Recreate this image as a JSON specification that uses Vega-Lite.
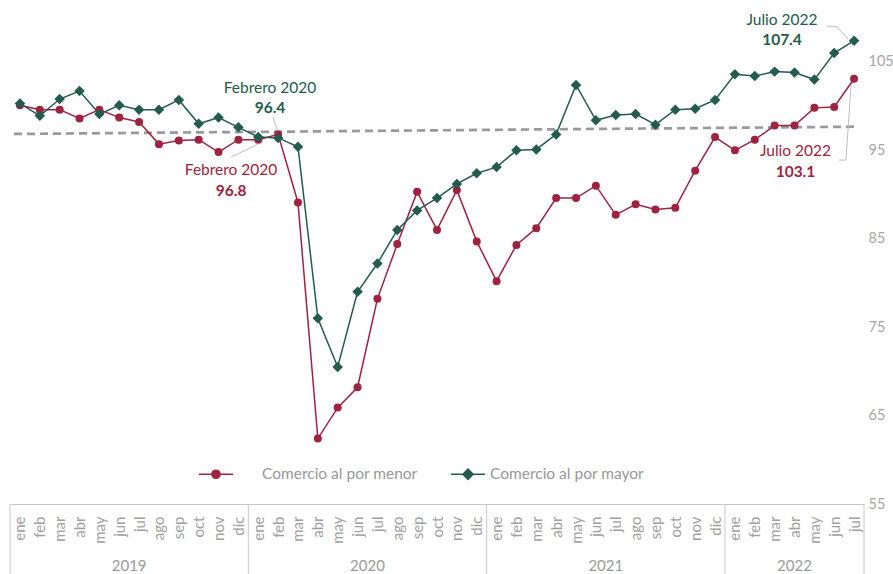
{
  "$schema": "https://vega.github.io/schema/vega-lite/v6.json",
  "width": 854,
  "height": 504,
  "autosize": {"type": "none"},
  "padding": {"left": 10, "top": 0, "right": 29, "bottom": 70},
  "background": "white",
  "config": {
    "font": "Lato",
    "view": {"stroke": null},
    "axis": {"grid": false, "ticks": false, "title": null}
  },
  "datasets": {
    "serie": [
      {"t": 0, "Comercio al por menor": 100.1, "Comercio al por mayor": 100.3},
      {"t": 1, "Comercio al por menor": 99.6, "Comercio al por mayor": 98.9},
      {"t": 2, "Comercio al por menor": 99.6, "Comercio al por mayor": 100.8},
      {"t": 3, "Comercio al por menor": 98.6, "Comercio al por mayor": 101.7},
      {"t": 4, "Comercio al por menor": 99.6, "Comercio al por mayor": 99.1},
      {"t": 5, "Comercio al por menor": 98.7, "Comercio al por mayor": 100.1},
      {"t": 6, "Comercio al por menor": 98.2, "Comercio al por mayor": 99.6},
      {"t": 7, "Comercio al por menor": 95.7, "Comercio al por mayor": 99.6},
      {"t": 8, "Comercio al por menor": 96.1, "Comercio al por mayor": 100.7},
      {"t": 9, "Comercio al por menor": 96.2, "Comercio al por mayor": 98.0},
      {"t": 10, "Comercio al por menor": 94.8, "Comercio al por mayor": 98.7},
      {"t": 11, "Comercio al por menor": 96.2, "Comercio al por mayor": 97.6},
      {"t": 12, "Comercio al por menor": 96.2, "Comercio al por mayor": 96.5},
      {"t": 13, "Comercio al por menor": 96.8, "Comercio al por mayor": 96.4},
      {"t": 14, "Comercio al por menor": 89.1, "Comercio al por mayor": 95.4},
      {"t": 15, "Comercio al por menor": 62.4, "Comercio al por mayor": 76.0},
      {"t": 16, "Comercio al por menor": 65.9, "Comercio al por mayor": 70.5},
      {"t": 17, "Comercio al por menor": 68.2, "Comercio al por mayor": 79.0},
      {"t": 18, "Comercio al por menor": 78.2, "Comercio al por mayor": 82.2},
      {"t": 19, "Comercio al por menor": 84.4, "Comercio al por mayor": 86.0},
      {"t": 20, "Comercio al por menor": 90.3, "Comercio al por mayor": 88.2},
      {"t": 21, "Comercio al por menor": 86.0, "Comercio al por mayor": 89.6},
      {"t": 22, "Comercio al por menor": 90.5, "Comercio al por mayor": 91.2},
      {"t": 23, "Comercio al por menor": 84.7, "Comercio al por mayor": 92.4},
      {"t": 24, "Comercio al por menor": 80.2, "Comercio al por mayor": 93.1},
      {"t": 25, "Comercio al por menor": 84.3, "Comercio al por mayor": 95.0},
      {"t": 26, "Comercio al por menor": 86.2, "Comercio al por mayor": 95.1},
      {"t": 27, "Comercio al por menor": 89.6, "Comercio al por mayor": 96.8},
      {"t": 28, "Comercio al por menor": 89.6, "Comercio al por mayor": 102.4},
      {"t": 29, "Comercio al por menor": 91.0, "Comercio al por mayor": 98.4},
      {"t": 30, "Comercio al por menor": 87.7, "Comercio al por mayor": 99.0},
      {"t": 31, "Comercio al por menor": 88.9, "Comercio al por mayor": 99.1},
      {"t": 32, "Comercio al por menor": 88.3, "Comercio al por mayor": 97.9},
      {"t": 33, "Comercio al por menor": 88.5, "Comercio al por mayor": 99.6},
      {"t": 34, "Comercio al por menor": 92.7, "Comercio al por mayor": 99.7},
      {"t": 35, "Comercio al por menor": 96.5, "Comercio al por mayor": 100.7},
      {"t": 36, "Comercio al por menor": 95.0, "Comercio al por mayor": 103.6},
      {"t": 37, "Comercio al por menor": 96.2, "Comercio al por mayor": 103.4},
      {"t": 38, "Comercio al por menor": 97.8, "Comercio al por mayor": 103.9},
      {"t": 39, "Comercio al por menor": 97.8, "Comercio al por mayor": 103.8},
      {"t": 40, "Comercio al por menor": 99.8, "Comercio al por mayor": 103.0},
      {"t": 41, "Comercio al por menor": 99.9, "Comercio al por mayor": 106.0},
      {"t": 42, "Comercio al por menor": 103.1, "Comercio al por mayor": 107.4}
    ],
    "tendencia": [
      {"t": -0.3, "v": 96.85},
      {"t": 42, "v": 97.67}
    ],
    "anotaciones": [
      {"serie": "Comercio al por mayor", "t": 12.59, "v": 102.05, "nombre": "Febrero 2020", "valor": "96.4"},
      {"serie": "Comercio al por menor", "t": 10.63, "v": 92.77, "nombre": "Febrero 2020", "valor": "96.8"},
      {"serie": "Comercio al por mayor", "t": 38.37, "v": 109.74, "nombre": "Julio 2022", "valor": "107.4"},
      {"serie": "Comercio al por menor", "t": 39.05, "v": 94.92, "nombre": "Julio 2022", "valor": "103.1"}
    ],
    "guias": [
      {"id": "gf", "k": 0, "t": 12.74, "v": 98.77},
      {"id": "gf", "k": 1, "t": 12.99, "v": 97.07},
      {"id": "rf", "k": 0, "t": 10.63, "v": 94.24},
      {"id": "rf", "k": 1, "t": 11.99, "v": 95.71},
      {"id": "gj", "k": 0, "t": 40.64, "v": 109.06},
      {"id": "gj", "k": 1, "t": 41.14, "v": 108.95},
      {"id": "gj", "k": 2, "t": 41.7, "v": 107.59},
      {"id": "rj", "k": 0, "t": 41.24, "v": 93.9},
      {"id": "rj", "k": 1, "t": 41.59, "v": 93.9},
      {"id": "rj", "k": 2, "t": 41.85, "v": 102.39}
    ],
    "separadores": [
      {"t": -0.5}, {"t": 11.5}, {"t": 23.5}, {"t": 35.5}, {"t": 42.5}
    ],
    "anios": [
      {"t": 5.5, "anio": "2019"},
      {"t": 17.5, "anio": "2020"},
      {"t": 29.5, "anio": "2021"},
      {"t": 39, "anio": "2022"}
    ]
  },
  "encoding": {
    "x": {
      "field": "t",
      "type": "quantitative",
      "title": null,
      "scale": {"domain": [-0.5, 42.5], "nice": false, "zero": false},
      "axis": {
        "values": [0,1,2,3,4,5,6,7,8,9,10,11,12,13,14,15,16,17,18,19,20,21,22,23,24,25,26,27,28,29,30,31,32,33,34,35,36,37,38,39,40,41,42],
        "labelExpr": "['ene','feb','mar','abr','may','jun','jul','ago','sep','oct','nov','dic'][datum.value % 12]",
        "labelAngle": 270,
        "labelPadding": 12,
        "labelFontSize": 15,
        "labelColor": "#a0a0a0",
        "labelOverlap": false,
        "labelBound": false,
        "labelFlush": false,
        "domainColor": "#c8c8c8",
        "ticks": false,
        "grid": false
      }
    }
  },
  "layer": [
    {
      "data": {"name": "separadores"},
      "mark": {"type": "rule", "color": "#c8c8c8", "strokeWidth": 1, "clip": false},
      "encoding": {
        "y": {"datum": 55, "type": "quantitative", "scale": {"domain": [55, 112], "nice": false, "zero": false}, "title": null},
        "y2": {"datum": 47}
      }
    },
    {
      "data": {"name": "anios"},
      "mark": {"type": "text", "fontSize": 15, "color": "#9a9a9a", "align": "center", "baseline": "middle", "clip": false},
      "encoding": {
        "y": {"datum": 48, "type": "quantitative", "scale": {"domain": [55, 112], "nice": false, "zero": false}, "title": null},
        "text": {"field": "anio"}
      }
    },
    {
      "data": {"name": "tendencia"},
      "mark": {"type": "line", "color": "#999999", "strokeWidth": 2.7, "strokeDash": [8, 5]},
      "encoding": {
        "y": {"field": "v", "type": "quantitative", "scale": {"domain": [55, 112], "nice": false, "zero": false}, "title": null}
      }
    },
    {
      "data": {"name": "guias"},
      "mark": {"type": "line", "color": "#c0c0c0", "strokeWidth": 1},
      "encoding": {
        "y": {"field": "v", "type": "quantitative", "scale": {"domain": [55, 112], "nice": false, "zero": false}, "title": null},
        "detail": {"field": "id"},
        "order": {"field": "k"}
      }
    },
    {
      "data": {"name": "serie"},
      "transform": [{"fold": ["Comercio al por menor", "Comercio al por mayor"], "as": ["serie", "v"]}],
      "mark": {"type": "line", "strokeWidth": 1.5},
      "encoding": {
        "y": {
          "field": "v",
          "type": "quantitative",
          "title": null,
          "scale": {"domain": [55, 112], "nice": false, "zero": false},
          "axis": {
            "orient": "right",
            "values": [55, 65, 75, 85, 95, 105],
            "labelPadding": 4,
            "labelFontSize": 14.5,
            "labelColor": "#a6a6a6",
            "domain": false,
            "ticks": false,
            "grid": false
          }
        },
        "color": {
          "field": "serie",
          "type": "nominal",
          "scale": {"domain": ["Comercio al por menor", "Comercio al por mayor"], "range": ["#9F2241", "#235B4E"]},
          "legend": {
            "orient": "none", "legendX": 188, "legendY": 456, "direction": "horizontal", "title": null,
            "symbolSize": 1156, "labelFontSize": 15.5, "labelColor": "#98989A", "labelFont": "Lato",
            "labelOffset": 16, "columnPadding": 30,
            "encoding": {
              "symbols": {
                "shape": {"value": {"expr": "datum.value == 'Comercio al por menor' ? 'M-1,0H1M0.24,0A0.24,0.24,0,1,1,-0.24,0A0.24,0.24,0,1,1,0.24,0Z' : 'M-1,0H1M-0.3,0L0,-0.3L0.3,0L0,0.3Z'"}},
                "stroke": {"value": {"expr": "scale('color', datum.value)"}},
                "fill": {"value": {"expr": "scale('color', datum.value)"}},
                "strokeWidth": {"value": 1.5},
                "size": {"value": 1156},
                "opacity": {"value": 1}
              },
              "labels": {
                "dx": {"value": {"expr": "datum.value == 'Comercio al por menor' ? 12 : -12"}}
              }
            }
          }
        }
      }
    },
    {
      "data": {"name": "serie"},
      "transform": [
        {"fold": ["Comercio al por menor", "Comercio al por mayor"], "as": ["serie", "v"]},
        {"filter": "datum.serie == 'Comercio al por menor'"}
      ],
      "mark": {"type": "point", "shape": "circle", "filled": true, "opacity": 1, "size": 64},
      "encoding": {
        "y": {"field": "v", "type": "quantitative", "scale": {"domain": [55, 112], "nice": false, "zero": false}, "title": null},
        "color": {
          "field": "serie",
          "type": "nominal",
          "legend": {
            "orient": "none", "legendX": 188, "legendY": 456, "direction": "horizontal", "title": null,
            "symbolSize": 1156, "labelFontSize": 15.5, "labelColor": "#98989A", "labelFont": "Lato",
            "labelOffset": 16, "columnPadding": 30,
            "encoding": {
              "symbols": {
                "shape": {"value": {"expr": "datum.value == 'Comercio al por menor' ? 'M-1,0H1M0.24,0A0.24,0.24,0,1,1,-0.24,0A0.24,0.24,0,1,1,0.24,0Z' : 'M-1,0H1M-0.3,0L0,-0.3L0.3,0L0,0.3Z'"}},
                "stroke": {"value": {"expr": "scale('color', datum.value)"}},
                "fill": {"value": {"expr": "scale('color', datum.value)"}},
                "strokeWidth": {"value": 1.5},
                "size": {"value": 1156},
                "opacity": {"value": 1}
              },
              "labels": {
                "dx": {"value": {"expr": "datum.value == 'Comercio al por menor' ? 12 : -12"}}
              }
            }
          }
        }
      }
    },
    {
      "data": {"name": "serie"},
      "transform": [
        {"fold": ["Comercio al por menor", "Comercio al por mayor"], "as": ["serie", "v"]},
        {"filter": "datum.serie == 'Comercio al por mayor'"}
      ],
      "mark": {"type": "point", "shape": "diamond", "filled": true, "opacity": 1, "size": 110},
      "encoding": {
        "y": {"field": "v", "type": "quantitative", "scale": {"domain": [55, 112], "nice": false, "zero": false}, "title": null},
        "color": {
          "field": "serie",
          "type": "nominal",
          "legend": {
            "orient": "none", "legendX": 188, "legendY": 456, "direction": "horizontal", "title": null,
            "symbolSize": 1156, "labelFontSize": 15.5, "labelColor": "#98989A", "labelFont": "Lato",
            "labelOffset": 16, "columnPadding": 30,
            "encoding": {
              "symbols": {
                "shape": {"value": {"expr": "datum.value == 'Comercio al por menor' ? 'M-1,0H1M0.24,0A0.24,0.24,0,1,1,-0.24,0A0.24,0.24,0,1,1,0.24,0Z' : 'M-1,0H1M-0.3,0L0,-0.3L0.3,0L0,0.3Z'"}},
                "stroke": {"value": {"expr": "scale('color', datum.value)"}},
                "fill": {"value": {"expr": "scale('color', datum.value)"}},
                "strokeWidth": {"value": 1.5},
                "size": {"value": 1156},
                "opacity": {"value": 1}
              },
              "labels": {
                "dx": {"value": {"expr": "datum.value == 'Comercio al por menor' ? 12 : -12"}}
              }
            }
          }
        }
      }
    },
    {
      "data": {"name": "anotaciones"},
      "mark": {"type": "text", "fontSize": 15.5, "align": "center", "baseline": "middle"},
      "encoding": {
        "y": {"field": "v", "type": "quantitative", "scale": {"domain": [55, 112], "nice": false, "zero": false}, "title": null},
        "text": {"field": "nombre"},
        "color": {"condition": {"test": "datum.serie == 'Comercio al por menor'", "value": "#9F2241"}, "value": "#235B4E"}
      }
    },
    {
      "data": {"name": "anotaciones"},
      "mark": {"type": "text", "fontSize": 15.5, "fontWeight": "bold", "align": "center", "baseline": "middle", "dy": 20.5},
      "encoding": {
        "y": {"field": "v", "type": "quantitative", "scale": {"domain": [55, 112], "nice": false, "zero": false}, "title": null},
        "text": {"field": "valor"},
        "color": {"condition": {"test": "datum.serie == 'Comercio al por menor'", "value": "#9F2241"}, "value": "#235B4E"}
      }
    }
  ]
}
